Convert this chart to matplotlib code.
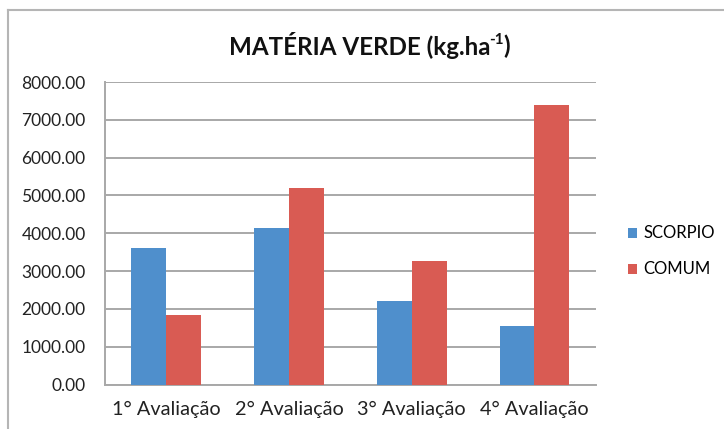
import numpy as np
import matplotlib.pyplot as plt
from matplotlib.lines import Line2D

plt.rcParams['font.family'] = ['Lato', 'DejaVu Sans']

categories = ['1° Avaliação', '2° Avaliação', '3° Avaliação', '4° Avaliação']
scorpio = [3620, 4130, 2210, 1540]
comum = [1840, 5190, 3270, 7390]
series_names = ['SCORPIO', 'COMUM']
colors = ['#4F8FCC', '#D95B53']
yticks = np.arange(0, 8001, 1000)

fig = plt.figure(figsize=(7.24, 4.29), dpi=100)
ax = fig.add_axes([0.145, 0.1037, 0.678, 0.705])

x = np.arange(len(categories))
w = 0.285
ax.bar(x - w/2, scorpio, w, color=colors[0], label=series_names[0], zorder=3)
ax.bar(x + w/2, comum, w, color=colors[1], label=series_names[1], zorder=3)

ax.set_xlim(-0.5, len(categories) - 0.5)
ax.set_ylim(0, 8000)
ax.set_yticks(yticks)
ax.set_yticklabels(['%.2f' % v for v in yticks])
ax.set_xticks(x)
ax.set_xticklabels(categories)
ax.tick_params(axis='both', length=0, colors='#222222')
ax.tick_params(axis='y', pad=14, labelsize=12.5)
ax.tick_params(axis='x', pad=12, labelsize=14.3)
ax.grid(axis='y', color='#A8A8A8', linewidth=1.4, zorder=0)

for s in ['top', 'right']:
    ax.spines[s].set_visible(False)
for s in ['left', 'bottom']:
    ax.spines[s].set_color('#A8A8A8')
    ax.spines[s].set_linewidth(1.4)

# title in three pieces so the superscript keeps a plain hyphen
fig.canvas.draw()
r = fig.canvas.get_renderer()
tkw = dict(fontsize=17.4, fontweight='bold', color='#111111', va='center')
t1 = fig.text(0.0, 0.893, 'MATÉRIA VERDE (kg.ha', **tkw)
t2 = fig.text(0.0, 0.893, '-1', fontsize=11, fontweight='bold', color='#111111', va='center')
t3 = fig.text(0.0, 0.893, ')', **tkw)
w1 = t1.get_window_extent(r).width
w2 = t2.get_window_extent(r).width
w3 = t3.get_window_extent(r).width
x0 = 370 - (w1 + w2 + w3) / 2
t1.set_x(x0 / 724)
t2.set_x((x0 + w1 - 1) / 724)
t2.set_y(0.893 + 6 / 429)
t3.set_x((x0 + w1 + w2 - 1) / 724)

ax.legend(loc='center left', bbox_to_anchor=(1.035, 0.44), frameon=False,
          fontsize=12, handlelength=0.55, handleheight=0.55, handletextpad=0.35,
          labelspacing=1.2)

# chart frame
fig.add_artist(Line2D([8/724, 1], [1 - 10/429, 1 - 10/429], color='#B5B5B5', linewidth=1.5))
fig.add_artist(Line2D([8/724, 8/724], [0, 1 - 10/429], color='#B5B5B5', linewidth=1.5))

fig.savefig('out.png', dpi=100)
